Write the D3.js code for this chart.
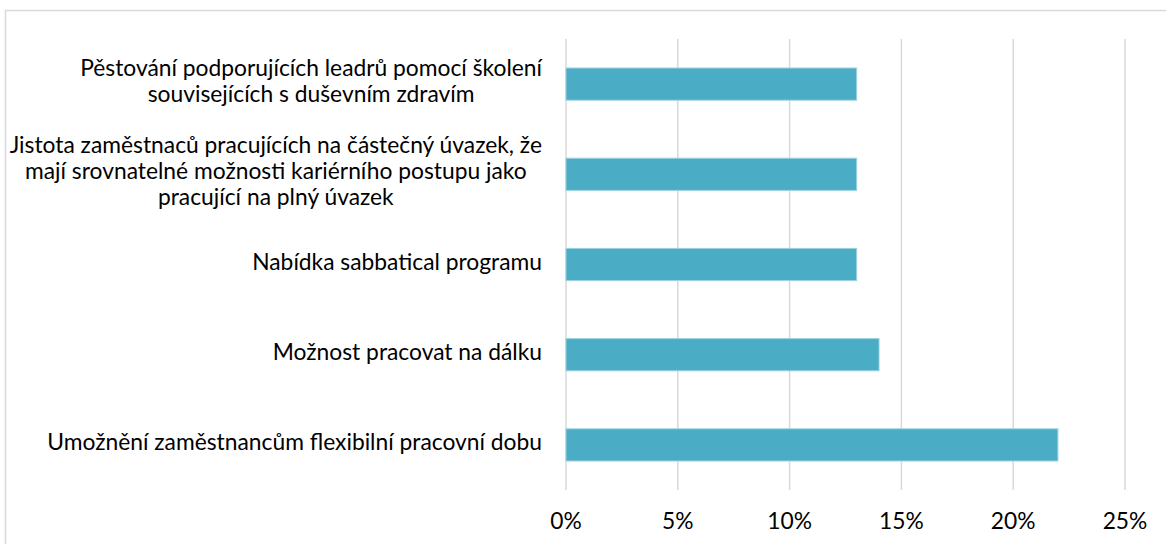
<!DOCTYPE html>
<html>
<head>
<meta charset="utf-8">
<script src="https://cdn.jsdelivr.net/npm/d3@7"></script>
<style>
html,body{margin:0;padding:0;background:#fff;}
svg{display:block;}
text{font-family:Lato,"Open Sans",sans-serif;fill:#000;}
</style>
</head>
<body>
<svg id="chart" width="1166" height="544"></svg>
<script>
// Categories (top to bottom), each split into display lines
const categories = [
  ["Pěstování podporujících leadrů pomocí školení", "souvisejících s duševním zdravím"],
  ["Jistota zaměstnaců pracujících na částečný úvazek, že", "mají srovnatelné možnosti kariérního postupu jako", "pracující na plný úvazek"],
  ["Nabídka sabbatical programu"],
  ["Možnost pracovat na dálku"],
  ["Umožnění zaměstnancům flexibilní pracovní dobu"]
];
const values = [13, 13, 13, 14, 22];
const xTicks = [0, 5, 10, 15, 20, 25];

const svg = d3.select("#chart");
const W = 1166, H = 544;
const margin = {left: 566, right: 41, top: 39, bottom: 54};

// outer chart border (cropped on right/bottom)
svg.append("rect")
  .attr("x", 5.5).attr("y", 10.5)
  .attr("width", W + 20).attr("height", H + 20)
  .attr("fill", "none").attr("stroke", "#d9d9d9").attr("stroke-width", 1.5);

const x = d3.scaleLinear().domain([0, 25]).range([margin.left, W - margin.right]);
const y = d3.scaleBand()
  .domain(d3.range(categories.length))
  .range([margin.top, H - margin.bottom])
  .paddingInner(0.643).paddingOuter(0.3215);

// fit font size so the longest single-line label matches reference width
const probe = svg.append("text").attr("font-size", 20).text(categories[4][0]);
const w20 = probe.node().getComputedTextLength();
probe.remove();
const fs = 20 * 495 / w20;
const lineH = 26;

// gridlines
svg.append("g").selectAll("line").data(xTicks).join("line")
  .attr("x1", d => x(d)).attr("x2", d => x(d))
  .attr("y1", margin.top).attr("y2", H - margin.bottom)
  .attr("stroke", "#d9d9d9").attr("stroke-width", 1.5);

// bars
svg.append("g").selectAll("rect").data(values).join("rect")
  .attr("x", x(0))
  .attr("y", (d, i) => y(i))
  .attr("width", d => x(d) - x(0))
  .attr("height", y.bandwidth())
  .attr("fill", "#4bacc6")
  .attr("stroke", "#9ed2e0").attr("stroke-width", 1);

// category labels (centered multi-line block, right edge near axis)
const labelRight = 542;
const lg = svg.append("g").attr("font-size", fs);
categories.forEach((lines, i) => {
  const cy = y(i) + y.bandwidth() / 2;
  // compute block width to center-align lines with right edge at labelRight
  const t = lg.append("text").attr("text-anchor", "middle");
  const widths = lines.map(l => {
    const p = lg.append("text").text(l); const w = p.node().getComputedTextLength(); p.remove(); return w;
  });
  const maxW = d3.max(widths);
  const cx = labelRight - maxW / 2;
  lines.forEach((l, j) => {
    t.append("tspan")
      .attr("x", cx)
      .attr("y", cy + 5 + (j - (lines.length - 1) / 2) * lineH)
      .text(l);
  });
});

// x tick labels
svg.append("g").attr("font-size", fs).selectAll("text").data(xTicks).join("text")
  .attr("x", d => x(d)).attr("y", 529)
  .attr("text-anchor", "middle")
  .text(d => d + "%");
</script>
</body>
</html>
